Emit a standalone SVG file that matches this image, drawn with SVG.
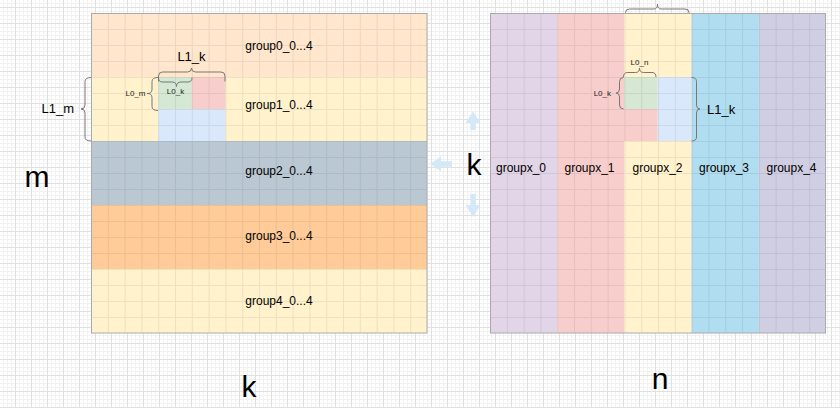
<svg xmlns="http://www.w3.org/2000/svg" width="840" height="408" viewBox="0 0 840 408">
<defs>
<pattern id="bg" patternUnits="userSpaceOnUse" x="0" y="0" width="16" height="16">
<rect width="16" height="16" fill="#ffffff"/>
<path d="M3.5,0V16M7.5,0V16M11.5,0V16M0,3.5H16M0,11.5H16M0,15.5H16" stroke="#f2f2f2" stroke-width="1"/>
<path d="M15.5,0V16M0,7.5H16" stroke="#e0e0e0" stroke-width="1"/>
</pattern>
<pattern id="cellL" patternUnits="userSpaceOnUse" x="91" y="13" width="16.8" height="16">
<path d="M0.5,0V16M0,0.5H16.8" stroke="#000" stroke-opacity="0.07" stroke-width="1"/>
</pattern>
<pattern id="cellR" patternUnits="userSpaceOnUse" x="490" y="13" width="16.8" height="16">
<path d="M0.5,0V16M0,0.5H16.8" stroke="#000" stroke-opacity="0.07" stroke-width="1"/>
</pattern>
</defs>
<style>
.lbl{font-family:"Liberation Sans",Arial,sans-serif;font-size:12px;fill:#000;text-anchor:middle}
.sm{font-family:"Liberation Sans",Arial,sans-serif;font-size:8px;fill:#222}
.mid{font-family:"Liberation Sans",Arial,sans-serif;font-size:13px;fill:#000}
.big{font-family:"Liberation Sans",Arial,sans-serif;font-size:30px;fill:#000;text-anchor:middle}
.brace{fill:none;stroke:#777;stroke-width:1}
.frame{fill:none;stroke:#aaaaaa;stroke-width:1}
.arrow{fill:#d4e9f8;stroke:none}
</style>
<rect width="840" height="408" fill="url(#bg)"/>

<g id="matrixA">
<g id="group0"><rect x="91" y="13" width="336" height="64" fill="#ffe6cc"/></g>
<g id="group1"><rect x="91" y="77" width="336" height="64" fill="#fff2cc"/></g>
<g id="group2"><rect x="91" y="141" width="336" height="64" fill="#bac8d3"/></g>
<g id="group3"><rect x="91" y="205" width="336" height="64" fill="#ffcc99"/></g>
<g id="group4"><rect x="91" y="269" width="336" height="64" fill="#fff2cc"/></g>
<g id="A_L0_block">
<rect x="158.2" y="77" width="33.6" height="32" fill="#d5e8d4"/>
<rect x="191.8" y="77" width="33.6" height="32" fill="#f8cecc"/>
<rect x="158.2" y="109" width="67.2" height="32" fill="#dae8fc"/>
</g>
<rect x="91" y="13" width="336" height="320" fill="url(#cellL)"/>
<rect x="91.5" y="13.5" width="335.5" height="319.5" class="frame"/>
<text class="lbl" x="279" y="50">group0_0...4</text>
<text class="lbl" x="279" y="109">group1_0...4</text>
<text class="lbl" x="279" y="175">group2_0...4</text>
<text class="lbl" x="279" y="240">group3_0...4</text>
<text class="lbl" x="279" y="305">group4_0...4</text>
</g>

<g id="matrixB">
<g id="groupx0"><rect x="490" y="13" width="67.2" height="320" fill="#e1d5e7"/></g>
<g id="groupx1"><rect x="557.2" y="13" width="67.2" height="320" fill="#f8cecc"/></g>
<g id="groupx2"><rect x="624.4" y="13" width="67.2" height="320" fill="#fff2cc"/></g>
<g id="groupx3"><rect x="691.6" y="13" width="67.2" height="320" fill="#b1ddf0"/></g>
<g id="groupx4"><rect x="758.8" y="13" width="67.2" height="320" fill="#d0cee2"/></g>
<g id="B_L0_block">
<rect x="624" y="77" width="33.6" height="32" fill="#d5e8d4"/>
<rect x="624" y="109" width="33.6" height="32" fill="#f8cecc"/>
<rect x="657.6" y="77" width="33.6" height="64" fill="#dae8fc"/>
</g>
<rect x="490" y="13" width="336" height="320" fill="url(#cellR)"/>
<rect x="490.5" y="13.5" width="335" height="319.5" class="frame"/>
<text class="lbl" x="521" y="172">groupx_0</text>
<text class="lbl" x="589.5" y="172">groupx_1</text>
<text class="lbl" x="657.5" y="172">groupx_2</text>
<text class="lbl" x="724" y="172">groupx_3</text>
<text class="lbl" x="791.5" y="172">groupx_4</text>
</g>

<g id="connectors">
<path class="brace" d="M158.5,81.5 L158.5,76 Q158.5,72 162.5,72 L187.5,72 Q191.5,72 191.5,68 Q191.5,72 195.5,72 L221,72 Q225,72 225,76 L225,81.5"/>
<path class="brace" d="M158.5,77.5 Q158.5,82 162.5,82 L172,82 Q176.5,82 176.5,86.5 Q176.5,82 181,82 L188,82 Q192,82 192,77.5"/>
<path class="brace" d="M158,77.5 Q152,77.5 152,81.5 L152,89.5 Q152,93.5 147,93.5 Q152,93.5 152,97.5 L152,106.5 Q152,110.5 158,110.5"/>
<path class="brace" d="M91,77.5 Q85,77.5 85,81.5 L85,105 Q85,109 81,109 Q85,109 85,113 L85,137 Q85,141 91,141"/>
<path class="brace" d="M625.5,13 L625.5,12.5 Q625.5,9 629.5,9 L654,9 Q657.5,9 657.5,4 Q657.5,9 661,9 L685,9 Q689,9 689,12.5 L689,13"/>
<path class="brace" d="M623.5,77 Q623.5,72.5 627.5,72.5 L635.5,72.5 Q639.5,72.5 639.5,68 Q639.5,72.5 643.5,72.5 L652,72.5 Q656,72.5 656,77"/>
<path class="brace" d="M623.5,77.5 Q619.5,77.5 619.5,81.5 L619.5,89 Q619.5,93 616,93 Q619.5,93 619.5,97 L619.5,105 Q619.5,109 623.5,109"/>
<path class="brace" d="M691.5,77.5 Q696.5,77.5 696.5,81.5 L696.5,105 Q696.5,109 700,109 Q696.5,109 696.5,113 L696.5,137 Q696.5,141 691.5,141"/>
<polygon class="arrow" points="473,111.5 480.5,123 475.7,123 475.7,130 470.3,130 470.3,123 465.5,123"/>
<polygon class="arrow" points="430,164 441,156.5 441,161.3 452,161.3 452,166.7 441,166.7 441,171.5"/>
<polygon class="arrow" points="470.3,194 475.7,194 475.7,205 480.5,205 473,217 465.5,205 470.3,205"/>
</g>

<g id="labels">
<text class="mid" x="191.5" y="61" text-anchor="middle">L1_k</text>
<text class="sm" x="175.5" y="94" text-anchor="middle">L0_k</text>
<text class="sm" x="145.5" y="96" text-anchor="end">L0_m</text>
<text class="mid" x="74" y="113" text-anchor="end">L1_m</text>
<text class="sm" x="639.5" y="64.5" text-anchor="middle">L0_n</text>
<text class="sm" x="611" y="96" text-anchor="end">L0_k</text>
<text class="mid" x="707" y="113.5">L1_k</text>
<text class="big" x="37" y="187">m</text>
<text class="big" x="474" y="175">k</text>
<text class="big" x="249" y="397">k</text>
<text class="big" x="660" y="389">n</text>
</g>
</svg>
